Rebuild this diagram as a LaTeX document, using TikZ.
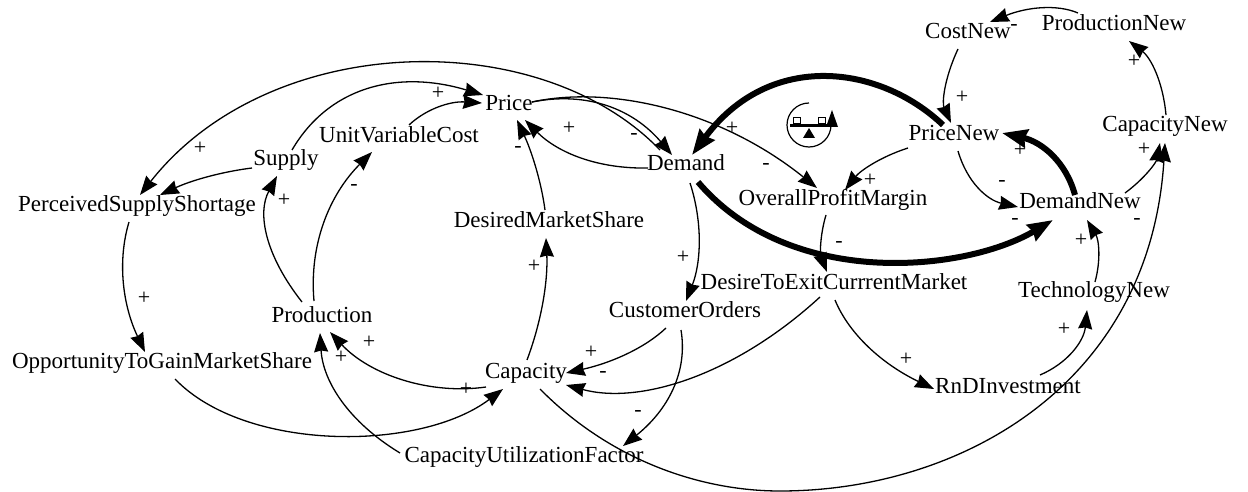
\documentclass[tikz,border=0pt]{standalone}
\usepackage{fontspec}
\setmainfont{Liberation Serif}
\usetikzlibrary{arrows.meta}

\begin{document}
\begin{tikzpicture}[x=1pt,y=-1pt,
    var/.style={inner sep=0pt,outer sep=0pt,font=\fontsize{23}{24}\selectfont,text height=18pt,text depth=3pt},
    sign/.style={inner sep=0pt,font=\fontsize{22}{24}\selectfont},
    link/.style={draw=black,line width=1.3pt,-{Stealth[length=19pt,width=14pt,inset=1.5pt]}},
    heavy/.style={draw=black,line width=6pt,-{Stealth[length=25pt,width=18pt,inset=2pt]}}]
  \useasboundingbox (0,0) rectangle (1248,492);
  \begin{scope}[every node/.style={var}]
    \node (CostNew) at (968,31) {CostNew};
    \node (ProductionNew) at (1114,23) {ProductionNew};
    \node (PriceNew) at (954,133) {PriceNew};
    \node (CapacityNew) at (1165,124) {CapacityNew};
    \node (DemandNew) at (1080,201) {DemandNew};
    \node (ProfitMargin) at (833,198) {OverallProfitMargin};
    \node (Demand) at (686,163) {Demand};
    \node (Price) at (509,103) {Price};
    \node (UnitCost) at (399,135) {UnitVariableCost};
    \node (Supply) at (286,158) {Supply};
    \node (Shortage) at (137,204) {PerceivedSupplyShortage};
    \node (MarketShare) at (549,220) {DesiredMarketShare};
    \node (Production) at (322,315) {Production};
    \node (Capacity) at (526,371) {Capacity};
    \node (Opportunity) at (162,361) {OpportunityToGainMarketShare};
    \node (Utilization) at (524,455) {CapacityUtilizationFactor};
    \node (Orders) at (685,310) {CustomerOrders};
    \node (ExitMarket) at (834,282) {DesireToExitCurrrentMarket};
    \node (TechnologyNew) at (1094,290) {TechnologyNew};
    \node (RnD) at (1008,386) {RnDInvestment};
  \end{scope}
  \begin{scope}
    \draw[link] ([shift={(-26,-13)}]Demand.center) .. controls (540,25) and (270,30) .. ([shift={(3,-9)}]Shortage.center);
    \draw[link] ([shift={(-34,10)}]Supply.center) .. controls (220,172) and (190,181) .. ([shift={(23,-9)}]Shortage.center);
    \draw[link] ([shift={(6,-8)}]Supply.center) .. controls (330,85) and (400,70) .. ([shift={(-26,-8)}]Price.center);
    \draw[link] ([shift={(10,-10)}]UnitCost.center) .. controls (426,109) and (450,101) .. ([shift={(-27,0)}]Price.center);
    \draw[link] ([shift={(-20,-13)}]Production.center) .. controls (265,255) and (257,213) .. ([shift={(-9,18)}]Supply.center);
    \draw[link] ([shift={(-8,-14)}]Production.center) .. controls (309,245) and (329,195) .. ([shift={(-27,17)}]UnitCost.center);
    \draw[link] ([shift={(23,-1)}]Price.center) .. controls (587,91) and (633,109) .. ([shift={(-14,-8)}]Demand.center);
    \draw[link] ([shift={(23,-1)}]Price.center) .. controls (610,85) and (720,110) .. ([shift={(-16,-10)}]ProfitMargin.center);
    \draw[link] ([shift={(-38,5)}]Demand.center) .. controls (598,169) and (558,153) .. ([shift={(16,17)}]Price.center);
    \draw[link] ([shift={(-4,-10)}]MarketShare.center) .. controls (541,180) and (531,150) .. ([shift={(8,17)}]Price.center);
    \draw[link] ([shift={(1,-11)}]Capacity.center) .. controls (542,320) and (548,280) .. ([shift={(-3,18)}]MarketShare.center);
    \draw[link] ([shift={(4,20)}]Demand.center) .. controls (703,223) and (701,263) .. ([shift={(1,-9)}]Orders.center);
    \draw[link] ([shift={(-46,15)}]PriceNew.center) .. controls (880,157) and (860,171) .. ([shift={(12,-8)}]ProfitMargin.center);
    \draw[link] ([shift={(-7,17)}]ProfitMargin.center) .. controls (820,235) and (820,254) .. ([shift={(-7,-10)}]ExitMarket.center);
    \draw[link] ([shift={(-10,18)}]CostNew.center) .. controls (944,79) and (942,103) .. ([shift={(-3,-10)}]PriceNew.center);
    \draw[link] ([shift={(-36,-10)}]ProductionNew.center) .. controls (1057,4) and (1027,7) .. ([shift={(22,-9)}]CostNew.center);
    \draw[link] ([shift={(1,-9)}]CapacityNew.center) .. controls (1163,82) and (1151,58) .. ([shift={(15,18)}]ProductionNew.center);
    \draw[link] ([shift={(45,-8)}]DemandNew.center) .. controls (1144,179) and (1156,163) .. ([shift={(-5,19)}]CapacityNew.center);
    \draw[link] ([shift={(4,18)}]PriceNew.center) .. controls (967,182) and (987,200) .. ([shift={(-62,6)}]DemandNew.center);
    \draw[link] ([shift={(1,-8)}]TechnologyNew.center) .. controls (1101,260) and (1099,240) .. ([shift={(7,19)}]DemandNew.center);
    \draw[link] ([shift={(32,-11)}]RnD.center) .. controls (1068,363) and (1084,341) .. ([shift={(-7,20)}]TechnologyNew.center);
    \draw[link] ([shift={(1,18)}]ExitMarket.center) .. controls (849,334) and (882,364) .. ([shift={(-74,3)}]RnD.center);
    \draw[link] ([shift={(-14,15)}]ExitMarket.center) .. controls (735,375) and (640,405) .. ([shift={(40,14)}]Capacity.center);
    \draw[link] ([shift={(-19,18)}]Orders.center) .. controls (645,348) and (611,363) .. ([shift={(40,2)}]Capacity.center);
    \draw[link] ([shift={(-4,20)}]Orders.center) .. controls (688,372) and (668,410) .. ([shift={(99,-9)}]Utilization.center);
    \draw[link] ([shift={(14,18)}]Capacity.center) .. controls (610,460) and (700,491) .. (780,491) .. controls (960,491) and (1150,385) .. ([shift={(0,19)}]CapacityNew.center);
    \draw[link] ([shift={(-40,16)}]Capacity.center) .. controls (430,395) and (370,375) .. ([shift={(8,17)}]Production.center);
    \draw[link] ([shift={(-124,-2)}]Utilization.center) .. controls (349,422) and (323,382) .. ([shift={(-2,18)}]Production.center);
    \draw[link] ([shift={(13,18)}]Opportunity.center) .. controls (245,452) and (420,452) .. ([shift={(-23,18)}]Capacity.center);
    \draw[link] ([shift={(-8,18)}]Shortage.center) .. controls (117,262) and (123,306) .. ([shift={(-17,-9)}]Opportunity.center);
    % the three heavy loops
    \draw[heavy] ([shift={(12,19)}]Demand.center) .. controls (790,290) and (965,272) .. ([shift={(-27,19)}]DemandNew.center);
    \draw[heavy] ([shift={(-11,-8)}]PriceNew.center) .. controls (880,65) and (770,50) .. ([shift={(6,-8)}]Demand.center);
    \draw[heavy] ([shift={(-5,-6)}]DemandNew.center) .. controls (1066,162) and (1042,142) .. ([shift={(48,0)}]PriceNew.center);
  \end{scope}
  \foreach \x/\y [count=\i] in {200/148,284/200,144/298,438/93,569/128,732/128,534/266,683/257,870/180,962/97,1020/150,1134/61,1144/149,1081/240,1064/329,906/359,369/342,341/357,466/389,591/352}
    \node[sign] (plus\i) at (\x,\y) {+};
  \foreach \x/\y [count=\i] in {354/187,634/136,518/149,766/166,1014/27,1002/183,1015/221,1137/221,839/244,603/374,638/413}
    \node[sign] (minus\i) at (\x,\y) {-};
  % balance mark
  \draw[line width=1.2pt] (809,103) arc[start angle=-90,end angle=-360,radius=22];
  \fill (832,110) -- (838,127) -- (826,127) -- cycle;
  \draw[line width=1pt] (793,124) rectangle (800,118);
  \draw[line width=1pt] (818,124) rectangle (825,118);
  \draw[line width=2.4pt] (790,125.5) -- (832,125.5);
  \fill (809,128) -- (815,138) -- (803,138) -- cycle;
\end{tikzpicture}
\end{document}
